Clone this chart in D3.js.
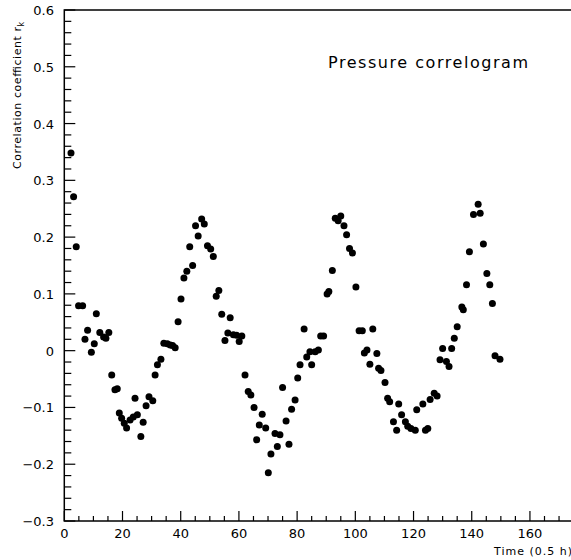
<!DOCTYPE html>
<html><head><meta charset="utf-8">
<script src="https://cdn.jsdelivr.net/npm/d3@7"></script>
<style>body{margin:0;background:#fff}svg{display:block}text{font-family:"DejaVu Sans",sans-serif;fill:#000}</style>
</head><body>
<script>
const lags = [2.3,3.2,4.1,4.9,6.3,7.1,8.0,9.3,10.3,11.0,12.2,13.5,14.3,15.3,16.3,17.4,18.2,18.9,19.7,20.6,21.4,22.6,23.7,24.3,25.1,26.3,27.1,28.1,29.1,30.4,31.2,32.0,33.2,34.2,35.4,36.4,37.2,38.1,39.1,40.1,41.1,42.1,43.1,44.1,45.1,46.0,47.2,48.1,49.2,50.3,51.2,52.2,53.1,54.1,55.2,56.2,57.0,58.1,59.2,60.1,61.0,62.1,63.2,64.1,65.2,66.1,67.0,68.0,69.2,70.1,71.0,72.4,73.2,74.1,75.0,76.2,77.2,78.1,79.3,80.2,81.0,82.4,83.3,84.4,85.0,86.2,87.3,88.1,89.1,90.3,90.9,92.1,93.1,94.1,95.0,96.1,97.0,98.0,99.0,100.2,101.3,102.4,103.1,104.0,105.0,106.0,107.4,108.0,108.8,110.2,111.1,111.8,113.1,114.2,114.9,115.9,117.2,118.0,119.1,120.6,121.1,123.2,124.1,124.9,125.7,127.1,128.1,129.1,130.0,131.3,132.2,133.1,134.0,135.0,136.6,137.1,138.2,139.2,140.6,142.2,142.9,144.0,145.2,146.2,147.1,148.0,149.7];
const corr = [0.348,0.271,0.183,0.079,0.079,0.020,0.036,-0.003,0.012,0.065,0.032,0.024,0.022,0.032,-0.043,-0.069,-0.067,-0.110,-0.119,-0.128,-0.136,-0.122,-0.117,-0.084,-0.113,-0.151,-0.126,-0.097,-0.081,-0.088,-0.043,-0.025,-0.015,0.013,0.012,0.010,0.009,0.005,0.051,0.091,0.128,0.140,0.183,0.150,0.220,0.202,0.232,0.223,0.185,0.179,0.166,0.096,0.106,0.064,0.018,0.031,0.058,0.028,0.027,0.016,0.026,-0.043,-0.072,-0.078,-0.100,-0.157,-0.131,-0.112,-0.136,-0.215,-0.182,-0.146,-0.169,-0.148,-0.065,-0.124,-0.165,-0.103,-0.087,-0.048,-0.025,0.038,-0.011,-0.002,-0.025,-0.002,0.001,0.026,0.026,0.100,0.104,0.141,0.233,0.229,0.237,0.220,0.204,0.180,0.172,0.112,0.035,0.035,-0.004,0.001,-0.024,0.038,-0.005,-0.031,-0.035,-0.056,-0.084,-0.090,-0.125,-0.140,-0.094,-0.113,-0.125,-0.133,-0.137,-0.140,-0.104,-0.094,-0.140,-0.137,-0.086,-0.075,-0.080,-0.016,0.004,-0.019,-0.028,0.004,0.022,0.042,0.077,0.072,0.116,0.174,0.240,0.258,0.242,0.188,0.136,0.116,0.083,-0.009,-0.015];
const xMajor = [0,20,40,60,80,100,120,140,160];
const yMajor = [-0.3,-0.2,-0.1,0,0.1,0.2,0.3,0.4,0.5,0.6];
const title = "Pressure correlogram";
const xTitle = "Time (0.5 h)";
const yTitle = "Correlation coefficient r";
const yTitleSub = "k";

const W=571,H=560;
const svg=d3.select("body").append("svg").attr("width",W).attr("height",H);
const x=d3.scaleLinear().domain([0,175]).range([64.3,573.6]);
const y=d3.scaleLinear().domain([-0.3,0.6]).range([521,10]);
const fmt=v=>v===0?"0":d3.format(".1f")(v).replace("-","\u2212");

// frame
svg.append("rect").attr("x",x(0)).attr("y",y(0.6)).attr("width",x(175)-x(0)).attr("height",y(-0.3)-y(0.6))
  .attr("fill","none").attr("stroke","#000").attr("stroke-width",1.5);

// x ticks
const xMinor=d3.range(0,176,5);
svg.append("g").selectAll("line").data(xMinor).join("line")
  .attr("x1",d=>x(d)).attr("x2",d=>x(d)).attr("y1",y(-0.3))
  .attr("y2",d=>y(-0.3)-(d%20===0?10:5)).attr("stroke","#000").attr("stroke-width",1.2);
svg.append("g").selectAll("text").data(xMajor).join("text")
  .attr("x",d=>x(d)).attr("y",538).attr("text-anchor","middle").attr("font-size",13).text(d=>d);
// y ticks
const yMinor=d3.range(-15,31).map(i=>i*0.02);
svg.append("g").selectAll("line").data(yMinor).join("line")
  .attr("y1",d=>y(d)).attr("y2",d=>y(d)).attr("x1",x(0))
  .attr("x2",(d,i)=>x(0)+((i)%5===0?11:7)).attr("stroke","#000").attr("stroke-width",1.2);
svg.append("g").selectAll("text").data(yMajor).join("text")
  .attr("x",54).attr("y",d=>y(d)+5).attr("text-anchor","end").attr("font-size",13).text(fmt);

// axis titles
svg.append("text").attr("x",572).attr("y",555).attr("text-anchor","end").attr("font-size",11)
  .attr("textLength",78).attr("lengthAdjust","spacing").text(xTitle);
const yt=svg.append("text").attr("transform","translate(21,169) rotate(-90)").attr("font-size",11);
yt.append("tspan").attr("textLength",142).attr("lengthAdjust","spacing").text(yTitle);
yt.append("tspan").attr("font-size",8).attr("dy",3).text(yTitleSub);

// title
svg.append("text").attr("x",328).attr("y",68).attr("font-size",16).attr("textLength",200)
  .attr("lengthAdjust","spacing").text(title);

// points
svg.append("g").selectAll("circle").data(lags.map((l,i)=>[l,corr[i]])).join("circle")
  .attr("cx",d=>x(d[0])).attr("cy",d=>y(d[1])).attr("r",3.5).attr("fill","#000");
</script>
</body></html>
